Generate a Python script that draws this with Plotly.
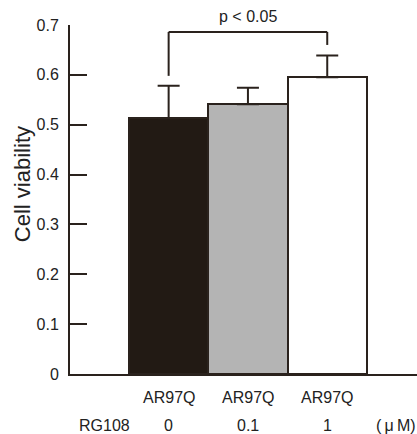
import plotly.graph_objects as go

# Data
categories = ["AR97Q", "AR97Q", "AR97Q"]
doses = ["0", "0.1", "1"]
viability = [0.513, 0.541, 0.595]
errors = [0.065, 0.033, 0.044]
bar_colors = ["#221a14", "#b4b4b4", "#ffffff"]
ytick_vals = [0, 0.1, 0.2, 0.3, 0.4, 0.5, 0.6, 0.7]
ytick_text = ["0", "0.1", "0.2", "0.3", "0.4", "0.5", "0.6", "0.7"]
bracket_x = [0, 2]
bracket_low = [0.598, 0.660]
bracket_top = 0.686
sig_label = "p < 0.05"
row_label = "RG108"
unit_label = "(\u2009μ\u2009M)"

DARK = "#2a221d"
TXT = "#222222"
FONT = "Liberation Sans, Arial, sans-serif"
FS = 16
xpos = list(range(len(viability)))

fig = go.Figure()
fig.add_trace(go.Bar(
    x=xpos, y=viability, width=1,
    marker=dict(color=bar_colors, line=dict(color=DARK, width=2)),
    error_y=dict(type="data", array=errors, arrayminus=[0] * len(errors),
                 symmetric=False, color=DARK, thickness=2, width=11),
    showlegend=False, hoverinfo="skip",
))

shapes = []
for bx, by in zip(bracket_x, bracket_low):
    shapes.append(dict(type="line", xref="x", yref="y", x0=bx, x1=bx, y0=by, y1=bracket_top,
                       line=dict(color=DARK, width=2)))
shapes.append(dict(type="line", xref="x", yref="y", x0=bracket_x[0], x1=bracket_x[1],
                   y0=bracket_top, y1=bracket_top, line=dict(color=DARK, width=2)))

annotations = [
    dict(x=sum(bracket_x) / 2, y=bracket_top, xref="x", yref="y", text=sig_label,
         showarrow=False, yanchor="bottom", yshift=5, font=dict(size=FS, color=TXT)),
    dict(x=0, y=0.544, xref="paper", yref="paper", xshift=-48, text="Cell viability",
         textangle=-90, showarrow=False, xanchor="center", yanchor="middle",
         font=dict(size=22, color=TXT)),
    dict(x=-0.806, y=0, xref="x", yref="paper", yshift=-51, text=row_label,
         showarrow=False, yanchor="middle", font=dict(size=FS, color=TXT)),
    dict(x=2.867, y=0, xref="x", yref="paper", yshift=-51, text=unit_label,
         showarrow=False, yanchor="middle", font=dict(size=FS, color=TXT)),
]
for i, (c, d) in enumerate(zip(categories, doses)):
    annotations.append(dict(x=xpos[i], y=0, xref="x", yref="paper", yshift=-23, text=c,
                            showarrow=False, yanchor="middle", font=dict(size=FS, color=TXT)))
    annotations.append(dict(x=xpos[i], y=0, xref="x", yref="paper", yshift=-51, text=d,
                            showarrow=False, yanchor="middle", font=dict(size=FS, color=TXT)))

fig.update_layout(
    width=417, height=434,
    margin=dict(l=70, r=0, t=25, b=60),
    paper_bgcolor="white", plot_bgcolor="white",
    font=dict(family=FONT, size=FS, color=TXT),
    shapes=shapes, annotations=annotations,
    bargap=0,
    xaxis=dict(range=[-1.244, 3.132], showline=True, linecolor=DARK, linewidth=2,
               showticklabels=False, ticks="", showgrid=False, zeroline=False),
    yaxis=dict(range=[0, 0.7], showline=True, linecolor=DARK, linewidth=2,
               tickvals=ytick_vals, ticktext=ytick_text, ticks="inside", ticklen=17,
               tickwidth=2, tickcolor=DARK, ticklabelstandoff=6, showgrid=False, zeroline=False,
               tickfont=dict(size=FS, color=TXT)),
)

fig.write_html("out.html", config={"displayModeBar": False},
               post_script="document.body.style.margin='0';document.body.style.overflow='hidden';")
